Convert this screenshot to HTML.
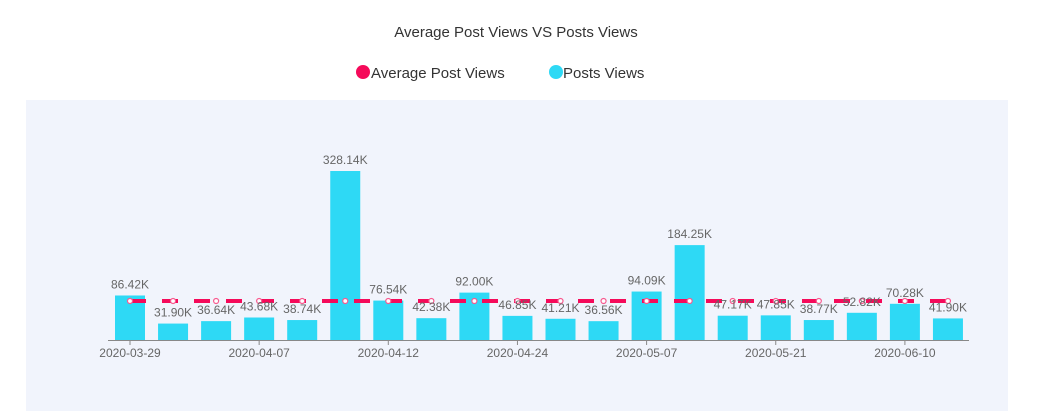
<!DOCTYPE html>
<html><head><meta charset="utf-8"><style>
html,body{margin:0;padding:0;background:#fff;width:1041px;height:411px;overflow:hidden;font-family:"Liberation Sans",sans-serif}
</style></head><body>
<svg width="1041" height="411" xmlns="http://www.w3.org/2000/svg" font-family="Liberation Sans, sans-serif">
<rect x="26" y="100" width="982" height="311" fill="#f1f4fc"/>
<text x="516" y="37" text-anchor="middle" font-size="15" fill="#333">Average Post Views VS Posts Views</text>
<circle cx="363" cy="72" r="7" fill="#f50a5a"/>
<text x="371" y="78" font-size="15" fill="#333">Average Post Views</text>
<circle cx="556" cy="72" r="7" fill="#2ed9f5"/>
<text x="563" y="78" font-size="15" fill="#333">Posts Views</text>
<g id="bars"></g>
<line x1="108" y1="340.5" x2="969" y2="340.5" stroke="#888" stroke-width="1"/>
<g id="ticks"></g>
<line x1="130" y1="301" x2="948" y2="301" stroke="#f50a5a" stroke-width="4" stroke-dasharray="16,16" stroke-dashoffset="0"/>
<g id="dots"></g>
<g id="labels"></g>
</svg>
<script>
var v=[86.42,31.90,36.64,43.68,38.74,328.14,76.54,42.38,92.00,46.85,41.21,36.56,94.09,184.25,47.17,47.85,38.77,52.82,70.28,41.90];
var ticks={0:"2020-03-29",3:"2020-04-07",6:"2020-04-12",9:"2020-04-24",12:"2020-05-07",15:"2020-05-21",18:"2020-06-10"};
var ns="http://www.w3.org/2000/svg";
function el(t,a,p,txt){var e=document.createElementNS(ns,t);for(var k in a)e.setAttribute(k,a[k]);if(txt)e.textContent=txt;document.getElementById(p).appendChild(e);}
for(var i=0;i<20;i++){
 var c=130+43.05*i,h=v[i]*0.515;
 el("rect",{x:c-15,y:340-h,width:30,height:h,fill:"#2ed9f5"},"bars");
 el("text",{x:c,y:340-h-7,"text-anchor":"middle","font-size":"12",fill:"#666"},"labels",v[i].toFixed(2)+"K");
 el("circle",{cx:c,cy:301,r:2.5,fill:"#fff",stroke:"#f75a90","stroke-width":1.2},"dots");
 if(ticks[i]){el("line",{x1:c,y1:340,x2:c,y2:345,stroke:"#888"},"ticks");
 el("text",{x:c,y:357,"text-anchor":"middle","font-size":"12",fill:"#666"},"ticks",ticks[i]);}
}
</script>
</body></html>
